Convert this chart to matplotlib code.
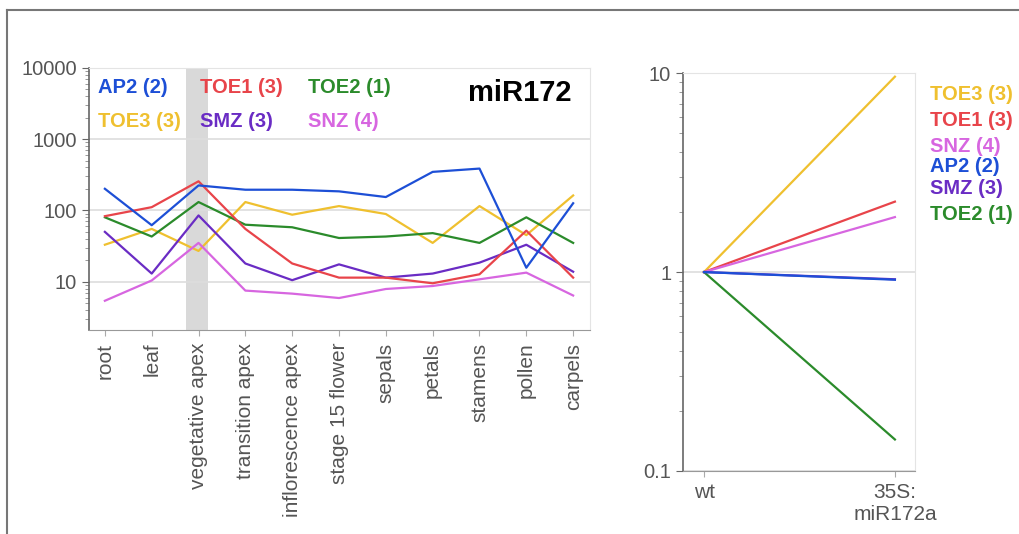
import matplotlib
matplotlib.use("Agg")
import matplotlib.pyplot as plt
from matplotlib.lines import Line2D

plt.rcParams["font.family"] = ["Liberation Sans", "DejaVu Sans"]

# tissue expression of miR172 targets
tissues = ["root", "leaf", "vegetative apex", "transition apex",
           "inflorescence apex", "stage 15 flower", "sepals", "petals",
           "stamens", "pollen", "carpels"]
ap2 = [201, 62, 224, 195, 195, 185, 154, 347, 386, 15.7, 126]
toe1 = [83, 111, 256, 55, 18, 11.4, 11.4, 9.5, 12.7, 52, 11.4]
toe2 = [80, 43, 131, 63, 58, 41, 43, 48, 35, 80, 35]
toe3 = [33, 55, 27, 131, 87, 115, 89, 35, 115, 45, 162]
smz = [50, 13, 85, 18, 10.5, 17.5, 11.4, 13, 18.5, 33, 13.8]
snz = [5.4, 10.4, 35, 7.5, 6.8, 5.9, 7.9, 8.7, 10.8, 13.4, 6.4]
highlight = "vegetative apex"

# fold change in 35S:miR172a vs wt
genotypes = ["wt", "35S:\nmiR172a"]
fold_toe3 = [1, 9.6]
fold_toe1 = [1, 2.26]
fold_snz = [1, 1.89]
fold_ap2 = [1, 0.915]
fold_smz = [1, 0.92]
fold_toe2 = [1, 0.144]

colors = {"AP2": "#1d4fd6", "TOE1": "#e8444a", "TOE2": "#2b8b2b",
          "TOE3": "#efc02f", "SMZ": "#6a2cc4", "SNZ": "#d766e0"}
labels = {"AP2": "AP2 (2)", "TOE1": "TOE1 (3)", "TOE2": "TOE2 (1)",
          "TOE3": "TOE3 (3)", "SMZ": "SMZ (3)", "SNZ": "SNZ (4)"}

fig = plt.figure(figsize=(10.19, 5.34), dpi=100)

# outer frame of the figure panel
fig.add_artist(Line2D([0.007, 1.0], [0.981, 0.981], color="#777777", lw=1.5))
fig.add_artist(Line2D([0.007, 0.007], [0.0, 0.981], color="#777777", lw=1.5))

tick_color = "#555555"
grid_color = "#dddddd"


def style_axes(ax):
    ax.set_yscale("log")
    for side in ("top", "right"):
        ax.spines[side].set_color("#e4e4e4")
    ax.spines["left"].set_color("#666666")
    ax.spines["bottom"].set_color("#999999")
    ax.spines["left"].set_linewidth(1.2)
    ax.yaxis.grid(True, which="major", color=grid_color, lw=1.2)
    ax.set_axisbelow(True)
    ax.tick_params(axis="y", which="major", length=5, color="#666666",
                   labelcolor=tick_color, labelsize=14.5)
    ax.tick_params(axis="y", which="minor", length=3, color="#888888")
    ax.tick_params(axis="x", length=4, pad=5, color="#aaaaaa",
                   labelcolor=tick_color, labelsize=15)


# left panel: tissues
ax1 = fig.add_axes([0.0873, 0.382, 0.4917, 0.491])
style_axes(ax1)
series = {"AP2": ap2, "TOE1": toe1, "TOE2": toe2, "TOE3": toe3,
          "SMZ": smz, "SNZ": snz}
x = list(range(len(tissues)))
hi = tissues.index(highlight)
ax1.axvspan(hi - 0.26, hi + 0.2, color="#d9d9d9", lw=0, zorder=0)
for name in ["TOE3", "SNZ", "SMZ", "TOE2", "TOE1", "AP2"]:
    ax1.plot(x, series[name], color=colors[name], lw=1.6)
ax1.set_ylim(2.1, 10000)
ax1.set_xlim(-0.34, len(tissues) - 1 + 0.36)
ax1.set_yticks([10, 100, 1000, 10000])
ax1.set_yticklabels(["10", "100", "1000", "10000"])
ax1.set_xticks(x)
ax1.set_xticklabels(tissues, rotation=90, va="top")

legend_pos = {"AP2": (0.018, 0.924), "TOE1": (0.222, 0.924),
              "TOE2": (0.437, 0.924), "TOE3": (0.018, 0.794),
              "SMZ": (0.222, 0.794), "SNZ": (0.437, 0.794)}
for name, (tx, ty) in legend_pos.items():
    ax1.text(tx, ty, labels[name], transform=ax1.transAxes, color=colors[name],
             fontsize=14.5, fontweight="bold", ha="left", va="center")
ax1.text(0.964, 0.905, "miR172", transform=ax1.transAxes, color="black",
         fontsize=21, fontweight="bold", ha="right", va="center")

# right panel: overexpression
ax2 = fig.add_axes([0.6703, 0.118, 0.2276, 0.745])
style_axes(ax2)
folds = {"TOE3": fold_toe3, "TOE1": fold_toe1, "SNZ": fold_snz,
         "AP2": fold_ap2, "SMZ": fold_smz, "TOE2": fold_toe2}
for name in ["TOE3", "TOE1", "SNZ", "TOE2", "SMZ", "AP2"]:
    ax2.plot([0, 1], folds[name], color=colors[name], lw=1.6)
ax2.set_ylim(0.1, 10)
ax2.set_xlim(-0.11, 1.105)
ax2.set_yticks([0.1, 1, 10])
ax2.set_yticklabels(["0.1", "1", "10"])
ax2.set_xticks([0, 1])
ax2.set_xticklabels(genotypes)

legend_y = [95, 121, 146, 167, 189, 214]
for name, py in zip(folds, legend_y):
    fig.text(0.913, 1 - py / 534, labels[name], color=colors[name],
             fontsize=14.5, fontweight="bold", ha="left", va="center")

fig.savefig("out.png", dpi=100)
